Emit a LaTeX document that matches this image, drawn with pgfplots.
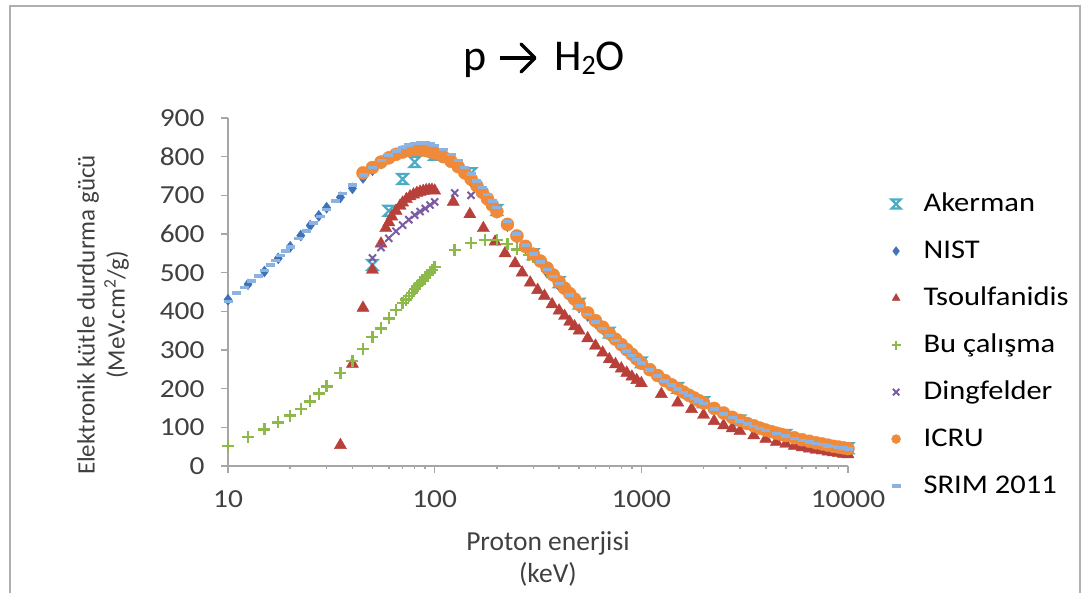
\documentclass[border=0pt]{standalone}
\usepackage{fontspec}
\setmainfont{Carlito}
\newfontfamily\wide{Carlito}[FakeStretch=1.13]
\usepackage{pgfplots}
\pgfplotsset{compat=1.18}
\definecolor{cAker}{HTML}{4BACC6}
\definecolor{cNIST}{HTML}{3F72B8}
\definecolor{cTsou}{HTML}{B8403B}
\definecolor{cBu}{HTML}{8DB84A}
\definecolor{cDing}{HTML}{7A5BA3}
\definecolor{cICRU}{HTML}{EE8A3A}
\definecolor{cSRIM}{HTML}{8BB2E0}
\definecolor{axgray}{HTML}{A6A6A6}
\definecolor{txtgray}{HTML}{404040}
\pgfdeclareplotmark{hourglass}{%
  \pgfpathmoveto{\pgfqpoint{-\pgfplotmarksize}{\pgfplotmarksize}}%
  \pgfpathlineto{\pgfqpoint{\pgfplotmarksize}{\pgfplotmarksize}}%
  \pgfpathlineto{\pgfqpoint{-\pgfplotmarksize}{-\pgfplotmarksize}}%
  \pgfpathlineto{\pgfqpoint{\pgfplotmarksize}{-\pgfplotmarksize}}%
  \pgfpathclose
  \pgfusepathqstroke}
\begin{document}
\begin{tikzpicture}
\useasboundingbox (0pt,0pt) rectangle (1086pt,592pt);
\draw[axgray!90, line width=2pt] (10pt,-20pt) rectangle (1080pt,586pt);
% title
\node[font=\fontsize{44}{50}\selectfont, anchor=base east, inner sep=0pt] at (487pt,521pt) {p};
\draw[line width=3.5pt] (500pt,534pt) -- (535pt,534pt);
\draw[line width=3.5pt, line join=round, line cap=round] (521pt,548pt) -- (535pt,534pt) -- (521pt,520pt);
\node[font=\fontsize{44}{50}\selectfont, anchor=base west, inner sep=0pt] at (554pt,521pt) {H\raisebox{-4pt}{\fontsize{28}{30}\selectfont 2}O};
\begin{axis}[
  at={(228pt,126pt)}, anchor=south west, scale only axis,
  width=620pt, height=348pt,
  xmode=log, xmin=10, xmax=10000, ymin=0, ymax=900,
  axis lines=left, axis line style={-, axgray, line width=1.5pt},
  tick align=outside, major tick length=7pt,
  tick style={axgray, line width=1.5pt},
  xtick={10,100,1000,10000}, xticklabels={10,100,1000,10000},
  minor xtick={},
  ytick={0,100,...,900},
  /pgf/number format/assume math mode=true,
  ticklabel style={font=\wide\fontsize{26}{30}\selectfont, text=txtgray},
  xticklabel style={yshift=-14pt},
  yticklabel style={xshift=-13pt},
  clip=false,
  xlabel={Proton enerjisi\\(keV)},
  xlabel style={font=\fontsize{27.5}{32}\selectfont, text=txtgray, align=center, at={(axis description cs:0.516,-0.267)}, anchor=center},
  ylabel={Elektronik kütle durdurma gücü\\(MeV.cm\textsuperscript{2}/g)},
  ylabel style={font=\fontsize{25}{30}\selectfont, text=txtgray, align=center, at={(axis description cs:-0.2016,0.434)}, anchor=center},
  legend image code/.code={\draw[mark repeat=2,mark phase=2,#1] plot coordinates {(0pt,0pt) (8pt,0pt) (24pt,0pt)};},
  legend image post style={mark size=4.5pt},
  legend style={draw=none, fill=none, inner sep=0pt, at={(axis description cs:1.070,0.3475)}, anchor=west,
    font=\wide\fontsize{27}{32}\selectfont, row sep=23pt, column sep=23pt,
    nodes={inner sep=0pt, text height=19pt, text depth=5pt}},
  legend cell align=left,
]
% Akerman
\addplot[only marks, mark=hourglass, mark size=5pt, cAker, line width=2.2pt] coordinates {
(50,520)(60,660)(70,742)(80,786)(100,805)(150,757)(200,662)(300,548)(400,475)(500,420)(700,345)(1000,268)(1500,202)(2000,165)(3000,118)(5000,80)(10000,46)};
\addlegendentry{Akerman}
% NIST
\addplot[only marks, mark=diamond*, mark size=5.5pt, cNIST] coordinates {
(10,430)(12.5,470)(15,503)(17.5,537)(20,567)(22.5,596)(25,622)(27.5,647)(30,668)(35,695)(40,718)(45,745)(50,765)(55,782)(60,795)(65,805)(70,812)(80,818)(90,817)(100,810)(125,780)(150,735)(175,695)(200,655)(225,620)(250,590)(275,563)(300,543)(350,500)(400,466)(450,438)(500,410)(550,388)(600,370)(650,354)(700,339)(800,312)(900,288)(1000,265)(1250,226)(1500,201)(1750,180)(2000,164)(2250,149)(2500,137)(2750,126)(3000,117)(3500,103)(4000,93)(4500,85)(5000,78)(5500,72)(6000,67)(6500,63)(7000,59)(8000,53)(9000,48)(10000,45)};
\addlegendentry{NIST}
% Tsoulfanidis
\addplot[only marks, mark=triangle*, mark size=7pt, cTsou] coordinates {
(35,54)(40,264)(45,409)(50,507)(55,575)(58,615)(60,630)(62,645)(65,660)(68,673)(70,681)(73,690)(76,697)(79,702)(82,706)(85,709)(88,711)(91,713)(94,714)(97,714)(100,712)
(123,683)(148,651)(172,615)(196,580)(219,550)(245,524)(265,500)(290,474)(315,455)(340,440)(370,418)(400,402)(425,388)(450,373)(475,361)(500,350)(550,330)(600,311)(650,293)(700,276)(750,263)(800,252)(850,241)(900,231)(950,222)(1000,214)(1250,186)(1500,164)(1750,147)(2000,132)(2250,116)(2500,105)(2750,97)(3000,90)(3500,79)(4000,70)(4500,62)(5000,57)(5500,52)(6000,48)(6500,45)(7000,42)(7500,40)(8000,37)(8500,35)(9000,33)(9500,31)(10000,30)};
\addlegendentry{Tsoulfanidis}
% Bu calisma
\addplot[only marks, mark=+, mark size=6pt, cBu, line width=2.5pt] coordinates {
(10,52)(12.5,75)(15,95)(17.5,113)(20,130)(22.5,148)(25,167)(27.5,187)(30,206)(35,240)(40,272)(45,302)(50,333)(55,356)(60,382)(65,403)(70,422)(72.5,430)(75,440)(77.5,448)(80,458)(82.5,465)(85,472)(87.5,480)(90,487)(92.5,494)(95,500)(97.5,507)(100,515)
(125,558)(150,577)(175,584)(200,584)(225,574)(250,560)(285,546)(300,540)(350,505)(400,470)(500,415)(600,372)(700,340)(800,312)(900,288)(1000,265)(1500,200)(2000,163)(3000,117)(4000,93)(5000,78)(7000,60)(10000,45)};
\addlegendentry{Bu çalışma}
% Dingfelder
\addplot[only marks, mark=x, mark size=5pt, cDing, line width=2pt] coordinates {
(50,538)(55,565)(60,589)(65,607)(70,623)(75,637)(80,649)(85,658)(90,666)(95,675)(100,683)(125,706)(150,700)(200,660)(300,548)(400,470)(500,418)(700,342)(1000,265)(1500,200)(2000,163)(3000,117)(5000,80)(10000,46)};
\addlegendentry{Dingfelder}
% ICRU
\addplot[only marks, mark=*, mark size=6.5pt, cICRU] coordinates {
(45,758)(50,772)(55,786)(60,797)(65,806)(70,812)(75,816)(80,818)(85,818)(90,816)(95,813)(100,810)(110,800)(120,788)(130,774)(140,758)(150,742)(160,725)(170,708)(180,691)(190,675)(200,658)(225,625)(250,595)(275,568)(300,548)(325,530)(350,512)(375,494)(400,476)(425,460)(450,446)(475,432)(500,418)(550,396)(600,376)(650,359)(700,343)(750,328)(800,314)(850,301)(900,289)(950,277)(1000,266)(1100,249)(1200,234)(1300,221)(1400,210)(1500,200)(1600,191)(1700,183)(1800,176)(1900,169)(2000,163)(2250,149)(2500,137)(2750,126)(3000,118)(3250,110)(3500,104)(3750,98)(4000,93)(4250,89)(4500,85)(4750,82)(5000,79)(5500,73)(6000,68)(6500,64)(7000,60)(7500,57)(8000,54)(8500,51)(9000,49)(9500,47)(10000,45)};
\addlegendentry{ICRU}
% SRIM 2011
\addplot[only marks, mark=-, mark size=4.5pt, cSRIM, line width=3.5pt] coordinates {
(10,425)(11,447)(12,462)(13,478)(14,492)(15,506)(16,520)(17,532)(18,545)(19,556)(20,566)(22,588)(24,608)(26,628)(28,645)(30,663)(33,685)(36,705)(40,727)(45,752)(50,772)(55,790)(60,804)(65,815)(70,824)(75,830)(80,834)(85,836)(90,835)(95,833)(100,829)(110,818)(120,805)(130,790)(140,772)(150,755)(160,737)(170,720)(180,702)(190,686)(200,668)(225,632)(250,600)(275,572)(300,548)(325,528)(350,508)(375,490)(400,472)(450,442)(500,414)(550,392)(600,372)(650,355)(700,338)(750,324)(800,310)(850,298)(900,286)(950,276)(1000,266)(1100,248)(1200,233)(1300,220)(1400,209)(1500,199)(1600,190)(1700,182)(1800,175)(1900,168)(2000,162)(2250,148)(2500,135)(2750,125)(3000,116)(3250,109)(3500,102)(3750,97)(4000,92)(4500,84)(5000,77)(5500,71)(6000,66)(6500,62)(7000,58)(7500,55)(8000,52)(8500,50)(9000,48)(9500,46)(10000,44)};
\addlegendentry{SRIM 2011}
\end{axis}
\end{tikzpicture}
\end{document}
